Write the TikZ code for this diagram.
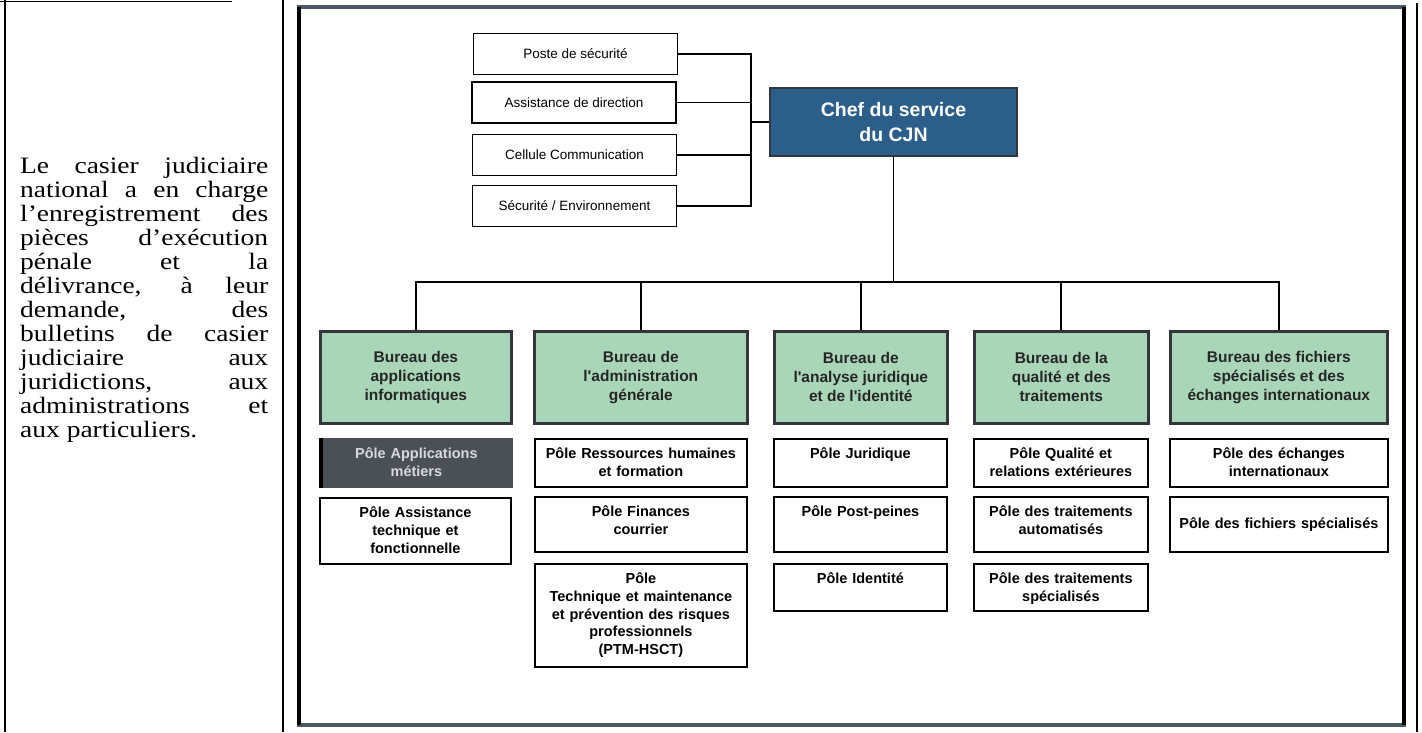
\documentclass[tikz,border=0pt]{standalone}
\usepackage{fontspec}
\setmainfont{Liberation Serif}
\newfontfamily\descfont[FakeStretch=1.17]{Liberation Serif}
\newfontfamily\chartfont{Liberation Sans}
\definecolor{chefblue}{HTML}{2C5E8A}
\definecolor{bureaugreen}{HTML}{A9D5B8}
\definecolor{polegray}{HTML}{4B5056}
\definecolor{poletext}{HTML}{D5D9DD}
\definecolor{framegray}{HTML}{4A5868}
\definecolor{edgegray}{HTML}{33373C}

\begin{document}
\begin{tikzpicture}[x=1pt,y=-1pt,
  aide/.style={draw,line width=1.8pt,minimum width=204pt,minimum height=41pt,inner sep=0pt,
    font=\chartfont\fontsize{13.5}{16}\selectfont},
  chef/.style={draw=edgegray,line width=2.6pt,fill=chefblue,text=white,minimum width=247pt,
    minimum height=68pt,align=center,font=\chartfont\bfseries\fontsize{19.5}{25}\selectfont},
  bureau/.style={draw=edgegray,line width=2.6pt,fill=bureaugreen,text=black!85,anchor=north west,
    minimum height=92pt,inner sep=0pt,align=center,font=\chartfont\bfseries\fontsize{15.5}{19}\selectfont},
  pole/.style={draw,line width=1.8pt,anchor=north west,inner xsep=2pt,inner ysep=3pt,
    text height=17pt,align=center,font=\chartfont\bfseries\fontsize{14.5}{17.6}\selectfont},
  link/.style={line width=1.8pt}]
\useasboundingbox (0,0) rectangle (1422,732);

% cadre du tableau
\draw[line width=1.2pt] (5,0) -- (5,732);
\draw[line width=1.2pt] (283,0) -- (283,732);
\draw[line width=1.2pt] (1417,3) -- (1417,732);
\draw[line width=1.2pt] (0,1.5) -- (232,1.5);
\draw[framegray,line width=3.5pt] (297,7) -- (1406,7);
\draw[framegray,line width=3.5pt] (297,725) -- (1406,725);
\draw[line width=3.5pt] (299,7) -- (299,725);
\draw[line width=3.5pt] (1404,7) -- (1404,725);

% texte de gauche
\node[anchor=north west,text width=248pt,align=justify,inner sep=0pt,
  font=\descfont\fontsize{23.5}{24}\selectfont] (desc) at (20,157)
  {\tolerance=10000\relax\hyphenpenalty=10000\relax
   Le casier judiciaire\linebreak national a en charge\linebreak l’enregistrement des\linebreak
   pièces d’exécution\linebreak pénale et la\linebreak délivrance, à leur\linebreak
   demande, des\linebreak bulletins de casier\linebreak judiciaire aux\linebreak
   juridictions, aux\linebreak administrations et\linebreak aux particuliers.};

% direction
\node[aide] (poste) at (575.5,54) {Poste de sécurité};
\node[aide] (assist) at (574,102.5) {Assistance de direction};
\node[aide] (cellule) at (574.5,155) {Cellule Communication};
\node[aide] (secu) at (574.5,206) {Sécurité / Environnement};
\node[chef] (chef) at (893.5,122) {Chef du service\\du CJN};

% bureaux
\node[bureau,minimum width=191pt] (binfo) at (319,330) {Bureau des\\applications\\informatiques};
\node[bureau,minimum width=213pt] (badmin) at (533,330) {Bureau de\\l'administration\\générale};
\node[bureau,minimum width=173pt] (bjur) at (773,330) {Bureau de\\l'analyse juridique\\et de l'identité};
\node[bureau,minimum width=174pt] (bqual) at (973,330) {Bureau de la\\qualité et des\\traitements};
\node[bureau,minimum width=217pt] (bfich) at (1169,330) {Bureau des fichiers\\spécialisés et des\\échanges internationaux};

% poles
\node[pole,text width=187pt,fill=polegray,draw=polegray,text=poletext,text depth=25pt] (papp) at (320,438)
  {Pôle Applications\\métiers};
\draw[line width=4pt] ([xshift=1pt]papp.north west) -- ([xshift=1pt]papp.south west);
\node[pole,text width=187pt,text depth=43pt] (passist) at (319,497) {Pôle Assistance\\technique et\\fonctionnelle};
\node[pole,text width=208pt,text depth=25pt] (prh) at (534,438) {Pôle Ressources humaines\\et formation};
\node[pole,text width=208pt,text depth=32pt] (pfin) at (534,496) {Pôle Finances\\courrier};
\node[pole,text width=208pt,text depth=80pt] (ptech) at (534,563)
  {Pôle\\Technique et maintenance\\et prévention des risques\\professionnels\\(PTM-HSCT)};
\node[pole,text width=169pt,text depth=25pt] (pjur) at (773,438) {Pôle Juridique};
\node[pole,text width=169pt,text depth=32pt] (ppost) at (773,496) {Pôle Post-peines};
\node[pole,text width=169pt,text depth=24pt] (pident) at (773,563) {Pôle Identité};
\node[pole,text width=170pt,text depth=25pt] (pqual) at (973,438) {Pôle Qualité et\\relations extérieures};
\node[pole,text width=170pt,text depth=32pt] (pauto) at (973,496) {Pôle des traitements\\automatisés};
\node[pole,text width=170pt,text depth=24pt] (pspec) at (973,563) {Pôle des traitements\\spécialisés};
\node[pole,text width=214pt,text depth=25pt] (pechg) at (1169,438) {Pôle des échanges\\internationaux};
\node[pole,text width=214pt,text height=29pt,text depth=20pt] (pfspec) at (1169,496) {Pôle des fichiers spécialisés};

% liaisons
\coordinate (spine) at (751,122);
\foreach \n in {poste,assist,cellule,secu}
  \draw[link] (\n.east) -| (spine);
\draw[link] (spine) -- (chef.west);
\coordinate (bus) at (893.5,282);
\draw[link] (chef.south) -- (bus);
\foreach \n in {binfo,badmin,bjur,bqual,bfich}
  \draw[link] (bus) -| (\n.north);
\end{tikzpicture}
\end{document}
